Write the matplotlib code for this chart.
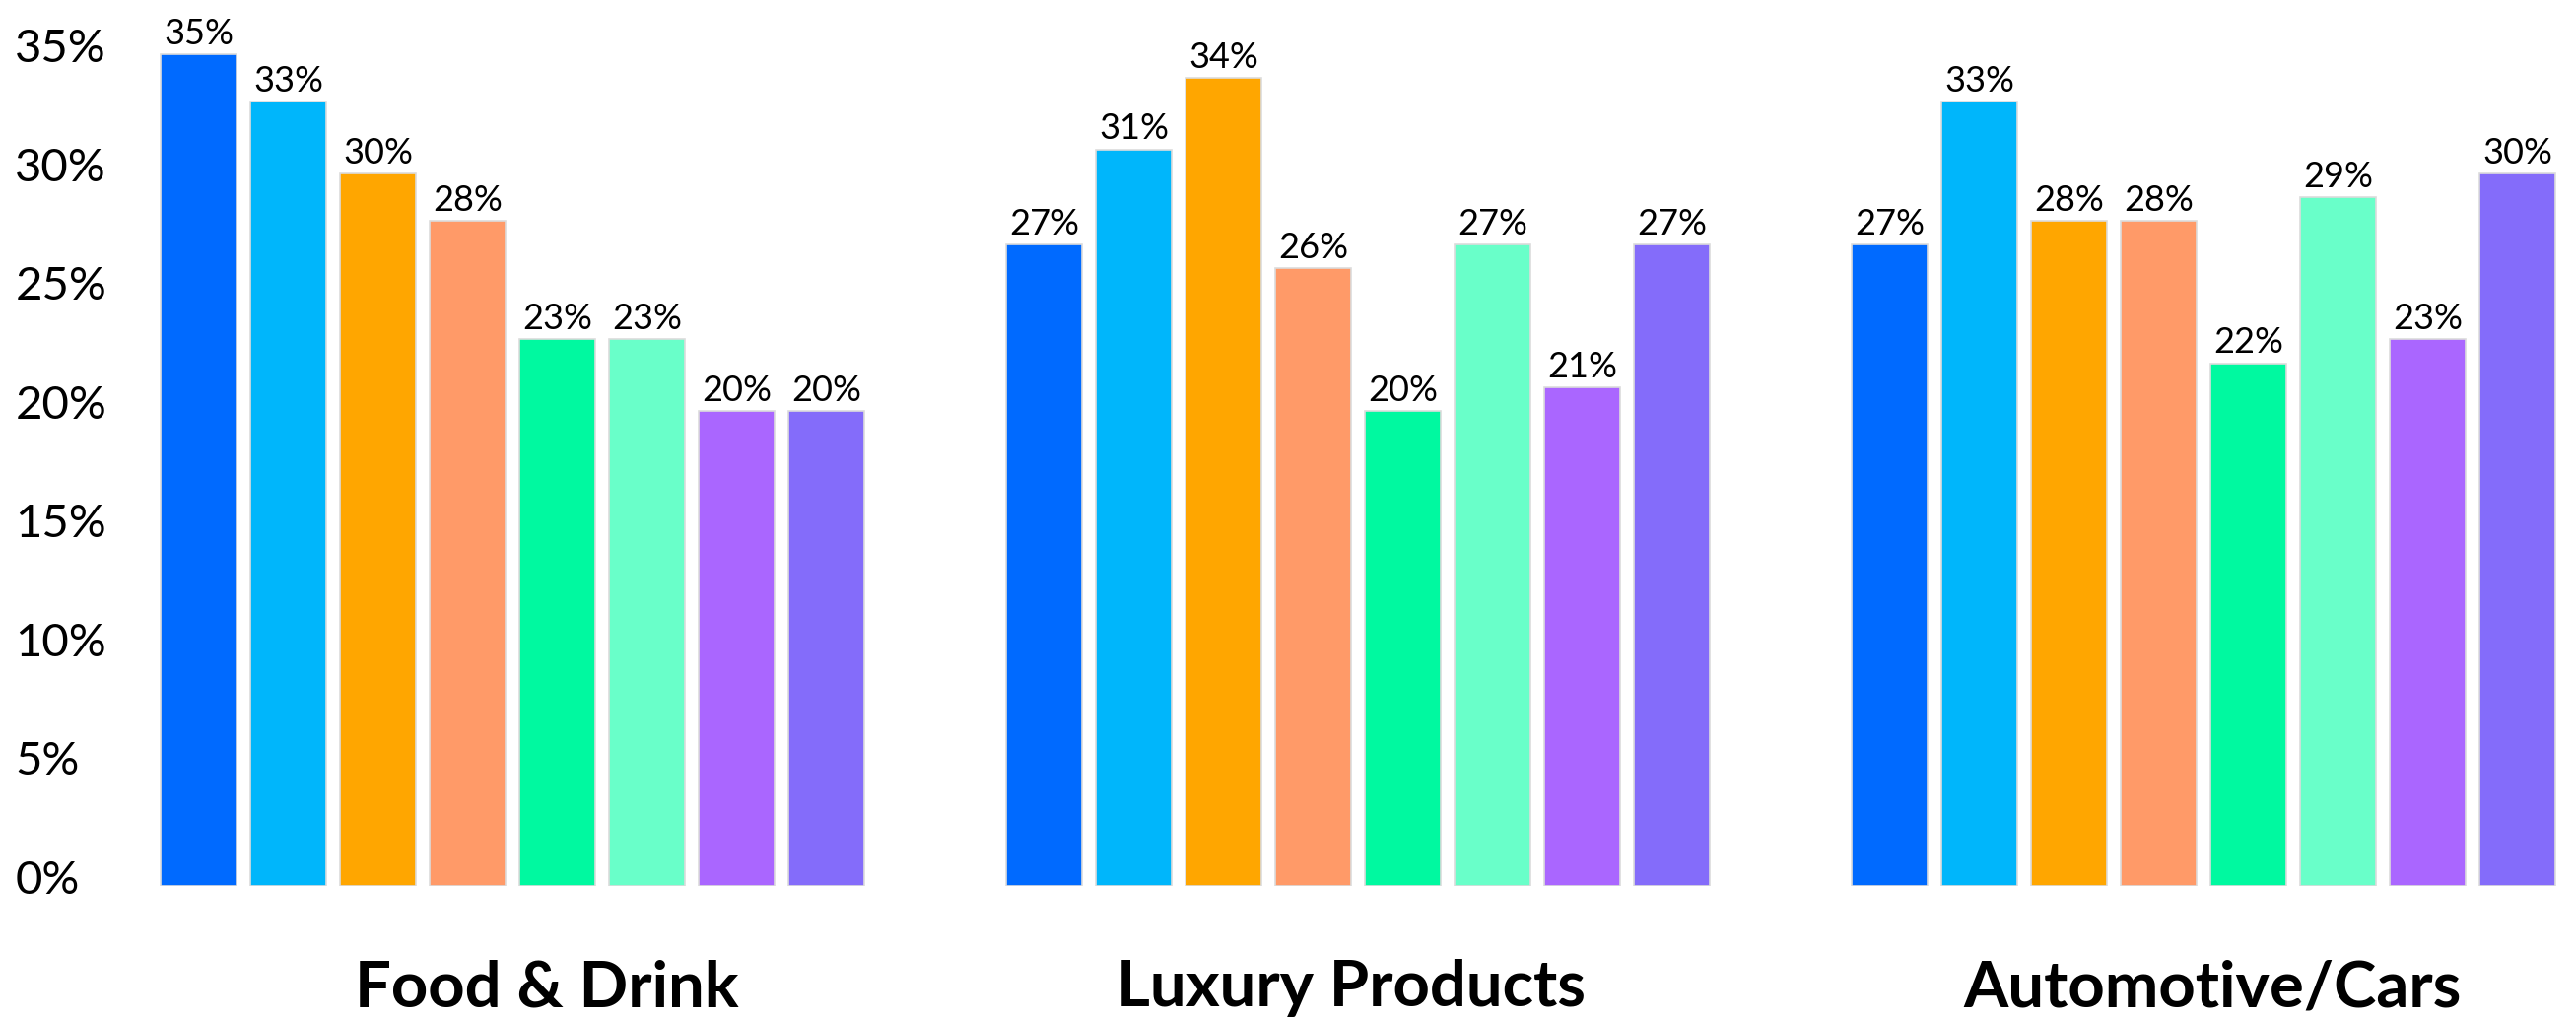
import numpy as np
import matplotlib
matplotlib.use('Agg')
import matplotlib.pyplot as plt
from matplotlib.transforms import blended_transform_factory, ScaledTranslation

# Data
groups = ['Food & Drink', 'Luxury Products', 'Automotive/Cars']
food_drink = [35, 33, 30, 28, 23, 23, 20, 20]
luxury = [27, 31, 34, 26, 20, 27, 21, 27]
automotive = [27, 33, 28, 28, 22, 29, 23, 30]
y_ticks = [0, 5, 10, 15, 20, 25, 30, 35]
y_tick_labels = ['0%', '5%', '10%', '15%', '20%', '25%', '30%', '35%']

colors = ['#006AFF', '#00B6FB', '#FFA600', '#FF9A68',
          '#00F9A0', '#69FFC9', '#AA66FF', '#846CFA']

plt.rcParams['font.family'] = ['Lato', 'DejaVu Sans']

fig = plt.figure(figsize=(26.14, 10.35), dpi=100)
ax = fig.add_axes([150 / 2614, 0.1314, 2460 / 2614, 0.8386])

group_step = 9.43
bar_width = 0.846
label_shift = [0.38, -0.08, 0.1]

for g, values in enumerate([food_drink, luxury, automotive]):
    x = g * group_step + np.arange(len(values))
    bars = ax.bar(x, values, width=bar_width, color=colors,
                  edgecolor='#dcdcdc', linewidth=1.2)
    for rect, v in zip(bars, values):
        ax.annotate('%d%%' % v, (rect.get_x() + rect.get_width() / 2, v),
                    xytext=(0, 3), textcoords='offset points',
                    ha='center', va='bottom', fontsize=26, color='black')

trans = blended_transform_factory(ax.transData, fig.transFigure)
for g, name in enumerate(groups):
    cx = g * group_step + 3.5 + label_shift[g]
    ax.text(cx, 0.0135, name, transform=trans, ha='center', va='baseline',
            fontsize=47, fontweight='bold', color='black')

ax.set_xlim(-0.566, 26.467)
ax.set_ylim(0, 36)
ax.set_yticks(y_ticks)
ax.set_yticklabels(y_tick_labels, fontsize=34)
ax.tick_params(axis='y', length=0, pad=97)
shift_up = ScaledTranslation(0, 9 / 100, fig.dpi_scale_trans)
for lab in ax.get_yticklabels():
    lab.set_horizontalalignment('left')
    lab.set_transform(lab.get_transform() + shift_up)
ax.set_xticks([])
for s in ax.spines.values():
    s.set_visible(False)

fig.savefig('out.png', dpi=100, facecolor='white')
